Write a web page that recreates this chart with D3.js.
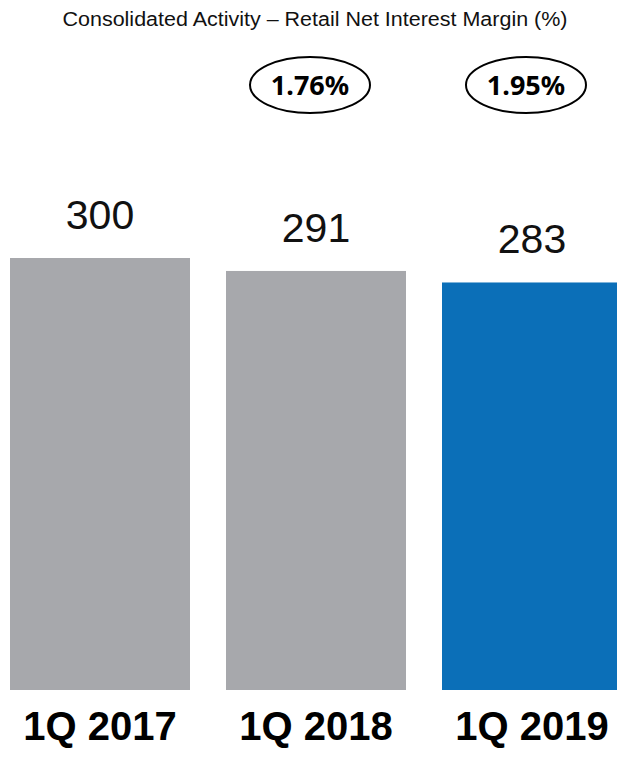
<!DOCTYPE html>
<html>
<head>
<meta charset="utf-8">
<script src="https://cdn.jsdelivr.net/npm/d3@7"></script>
<style>
  body { margin: 0; background: #fff; }
</style>
</head>
<body>
<script>
// chart data
const categories = ['1Q 2017', '1Q 2018', '1Q 2019'];
const values = [300, 291, 283];
const marginLabels = [null, '1.76%', '1.95%'];
const title = 'Consolidated Activity \u2013 Retail Net Interest Margin (%)';

const width = 617;
const height = 761;
const baseY = 690;

const barColors = ['#a7a8ac', '#a7a8ac', '#0b6fb8'];

const svg = d3.select('body')
  .append('svg')
  .attr('width', width)
  .attr('height', height);

// x scale: one band per quarter
const xScale = d3.scaleBand()
  .domain(categories)
  .range([10, 622])
  .paddingInner(36 / 216)
  .paddingOuter(0);

// y scale starts at zero
const yScale = d3.scaleLinear()
  .domain([0, 300])
  .range([baseY, 258]);

// title
svg.append('text')
  .attr('x', 315)
  .attr('y', 26)
  .attr('text-anchor', 'middle')
  .attr('textLength', 505)
  .attr('lengthAdjust', 'spacingAndGlyphs')
  .style('font-family', 'Liberation Sans, Arial, sans-serif')
  .style('font-size', '20px')
  .style('fill', '#111')
  .text(title);

// bars
svg.append('g')
  .selectAll('rect')
  .data(values)
  .join('rect')
  .attr('x', (d, i) => xScale(categories[i]))
  .attr('y', d => yScale(d))
  .attr('width', xScale.bandwidth())
  .attr('height', d => yScale(0) - yScale(d))
  .style('fill', (d, i) => barColors[i]);

// value labels above bars
svg.append('g')
  .selectAll('text')
  .data(values)
  .join('text')
  .attr('x', (d, i) => xScale(categories[i]) + xScale.bandwidth() / 2)
  .attr('y', d => yScale(d) - 29)
  .attr('text-anchor', 'middle')
  .style('font-family', 'Liberation Sans, Arial, sans-serif')
  .style('font-size', '41px')
  .style('fill', '#111')
  .text(d => d);

// category labels
svg.append('g')
  .selectAll('text')
  .data(categories)
  .join('text')
  .attr('x', d => xScale(d) + xScale.bandwidth() / 2)
  .attr('y', 740)
  .attr('text-anchor', 'middle')
  .style('font-family', 'Liberation Sans, Arial, sans-serif')
  .style('font-weight', 'bold')
  .style('font-size', '40px')
  .style('fill', '#000')
  .text(d => d);

// net interest margin bubbles
const bubbles = svg.append('g')
  .selectAll('g')
  .data(categories.filter((d, i) => marginLabels[i]))
  .join('g')
  .attr('transform', d => `translate(${xScale(d) + xScale.bandwidth() / 2 - 6},85)`);

bubbles.append('ellipse')
  .attr('rx', 60)
  .attr('ry', 28)
  .style('fill', 'none')
  .style('stroke', '#000')
  .style('stroke-width', 2);

bubbles.append('text')
  .attr('y', 10)
  .attr('text-anchor', 'middle')
  .style('font-family', 'Noto Sans, sans-serif')
  .style('font-weight', 'bold')
  .style('font-size', '27px')
  .style('fill', '#000')
  .text(d => marginLabels[categories.indexOf(d)]);
</script>
</body>
</html>
